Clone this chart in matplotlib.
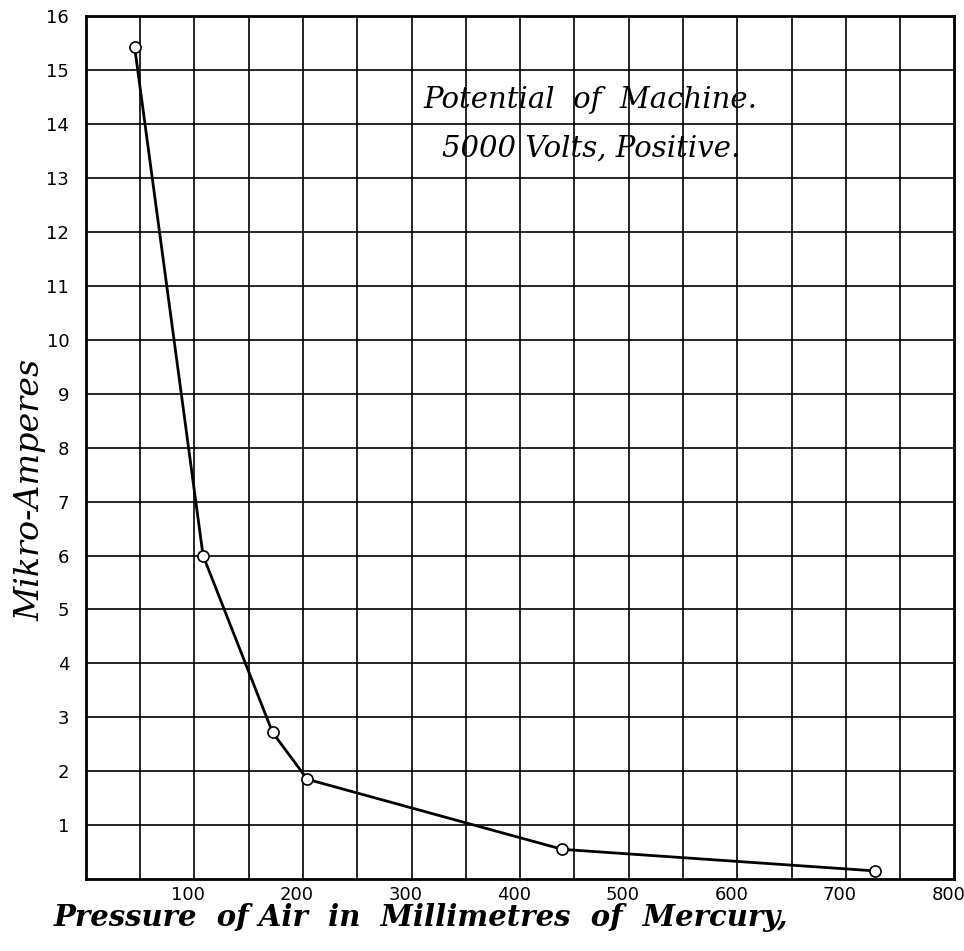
import numpy as np
import matplotlib.pyplot as plt
import matplotlib.transforms as mtrans

# datos
presion = [45, 108, 172, 204, 439, 727]
corriente = [15.43, 6.0, 2.72, 1.85, 0.55, 0.15]

xticks = [100, 200, 300, 400, 500, 600, 700, 800]
yticks = list(range(1, 17))

fig = plt.figure(figsize=(9.64, 9.51), dpi=100)
ax = fig.add_axes([0.089, 0.0757, 0.901, 0.907])

ax.set_xlim(0, 800)
ax.set_ylim(0, 16)

# cuadricula cada 50 / cada 1
for gx in np.arange(50, 800, 50):
    ax.axvline(gx, color='k', lw=1.2, zorder=1)
for gy in np.arange(1, 16, 1):
    ax.axhline(gy, color='k', lw=1.2, zorder=1)

ax.plot(presion, corriente, color='k', lw=2, zorder=3)
ax.plot(presion, corriente, 'o', ms=8, mfc='white', mec='k', mew=1.2, zorder=4)

ax.set_xticks(xticks)
ax.set_xticklabels([str(t) for t in xticks], fontsize=13, family='DejaVu Sans')
ax.set_yticks(yticks)
ax.set_yticklabels([str(t) for t in yticks], fontsize=13, family='DejaVu Sans')
ax.tick_params(length=0)
ax.tick_params(axis='x', pad=5)
ax.tick_params(axis='y', pad=12)

# etiquetas x un poco a la izquierda, como en el original
desp = mtrans.ScaledTranslation(-6 / 100, 0, fig.dpi_scale_trans)
for lab in ax.get_xticklabels():
    lab.set_transform(lab.get_transform() + desp)

for s in ax.spines.values():
    s.set_linewidth(2)

ax.text(465, 14.45, 'Potential  of  Machine.', fontsize=21, style='italic',
        family='DejaVu Serif', ha='center', va='center', zorder=5)
ax.text(465, 13.55, '5000 Volts, Positive.', fontsize=21, style='italic',
        family='DejaVu Serif', ha='center', va='center', zorder=5)

fig.text(0.437, 0.035, 'Pressure  of Air  in  Millimetres  of  Mercury,', fontsize=21,
         style='italic', weight='bold', family='DejaVu Serif', ha='center', va='center')
fig.text(0.032, 0.485, 'Mikro-Amperes', fontsize=24, style='italic', family='DejaVu Serif',
         rotation=90, ha='center', va='center')

plt.savefig('out.png', dpi=100)
